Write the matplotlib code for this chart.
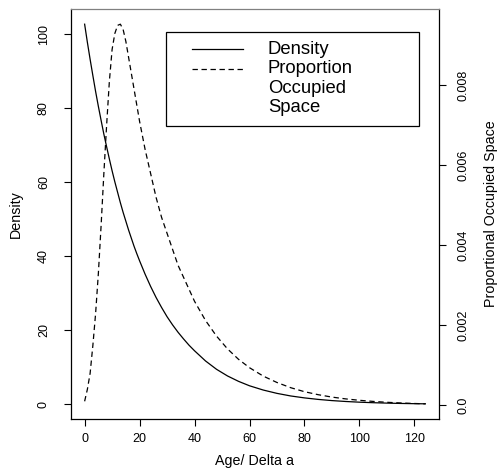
import matplotlib
matplotlib.use("Agg")
import matplotlib.pyplot as plt
from matplotlib.patches import Rectangle
from matplotlib.lines import Line2D

plt.rcParams["font.family"] = ["Liberation Sans", "DejaVu Sans"]

# Age classes (Delta a units)
age = [0, 1, 2, 3, 4, 5, 6, 7, 8, 9, 10, 11, 12, 13, 14, 15, 16, 17, 18, 19, 20,
       22, 24, 26, 28, 30, 32, 34, 36, 38, 40, 44, 48, 52, 56, 60, 65, 70, 75,
       80, 85, 90, 95, 100, 105, 110, 115, 120, 124]

# Density per age class
density = [102.7, 97.8, 93.2, 88.8, 84.5, 80.5, 76.7, 73.0, 69.6, 66.3, 63.1,
           60.1, 57.3, 54.5, 51.9, 49.5, 47.1, 44.9, 42.7, 40.7, 38.8,
           35.2, 31.9, 28.9, 26.2, 23.7, 21.5, 19.5, 17.7, 16.0, 14.5,
           11.75, 9.5, 7.7, 6.25, 5.05, 3.9, 3.0, 2.3,
           1.78, 1.37, 1.05, 0.81, 0.62, 0.48, 0.37, 0.28, 0.22, 0.18]

# Proportion of occupied space per age class
proportion = [0.0001, 0.0004, 0.0008, 0.0015, 0.0023, 0.0033, 0.0045, 0.0058,
              0.0070, 0.0081, 0.0089, 0.0093, 0.00950, 0.00953, 0.0094, 0.0091,
              0.0087, 0.0083, 0.0079, 0.0075, 0.0071,
              0.0064, 0.0058, 0.0052, 0.0047, 0.0043, 0.0039, 0.0035, 0.0032,
              0.0029, 0.0026, 0.00212, 0.00173, 0.00141, 0.00115, 0.00094,
              0.00073, 0.00057, 0.00044, 0.00034, 0.000265, 0.000205,
              0.00016, 0.000125, 0.000097, 0.000075, 0.000058, 0.000045,
              0.000037]

x_ticks = [0, 20, 40, 60, 80, 100, 120]
y_ticks = [0, 20, 40, 60, 80, 100]
y2_ticks = [0.0, 0.002, 0.004, 0.006, 0.008]
y2_labels = ["0.0", "0.002", "0.004", "0.006", "0.008"]


def padded(vals, frac=0.04):
    lo, hi = min(vals), max(vals)
    r = hi - lo
    return lo - frac * r, hi + frac * r


W, H = 502, 468
fig = plt.figure(figsize=(W / 100, H / 100), dpi=100)
L, R, T, B = 71, 439, 9, 419
ax = fig.add_axes([L / W, 1 - B / H, (R - L) / W, (B - T) / H])
ax2 = ax.twinx()

lw = 0.9
dash = (0, (4.3, 2.9))

ax.plot(age, density, color="black", lw=lw)
ax2.plot(age, proportion, color="black", lw=lw, linestyle=dash)

ax.set_xlim(*padded(age))
ax.set_ylim(*padded(density))
ax2.set_ylim(*padded(proportion))

ax.set_xticks(x_ticks)
ax.set_yticks(y_ticks)
ax2.set_yticks(y2_ticks)
ax2.set_yticklabels(y2_labels)

tick_fs = 9
lab_fs = 10.3
ax.tick_params(axis="x", direction="out", length=5.2, width=0.8, pad=4.8,
               labelsize=tick_fs)
ax.tick_params(axis="y", direction="out", length=5.2, width=0.8, pad=10.0,
               labelsize=tick_fs, labelrotation=90)
ax2.tick_params(axis="y", direction="out", length=5.2, width=0.8, pad=8.2,
                labelsize=tick_fs, labelrotation=90)
for lab in ax.get_yticklabels() + ax2.get_yticklabels():
    lab.set_va("center")

ax.set_xlabel("Age/ Delta a", fontsize=lab_fs, labelpad=6.8)
ax.set_ylabel("Density", fontsize=lab_fs, labelpad=11)
ax2.set_ylabel("Proportional Occupied Space", fontsize=lab_fs, labelpad=10,
               rotation=90)

for s in ax.spines.values():
    s.set_linewidth(0.9)
    s.set_color("black")
ax.spines["top"].set_color("#808080")
for s in ax2.spines.values():
    s.set_visible(False)

# Legend box drawn in axes coordinates
tr = ax.transAxes
ax.add_patch(Rectangle((0.258, 0.715), 0.946 - 0.258, 0.945 - 0.715,
                       transform=tr, fill=False, edgecolor="black", lw=0.9,
                       zorder=5))
ax.add_line(Line2D([0.329, 0.467], [0.902, 0.902], transform=tr,
                   color="black", lw=lw, zorder=5))
ax.add_line(Line2D([0.329, 0.467], [0.854, 0.854], transform=tr,
                   color="black", lw=lw, linestyle=dash, zorder=5))
leg_fs = 13.3
for txt, yy in [("Density", 0.902), ("Proportion", 0.854),
                ("Occupied", 0.807), ("Space", 0.760)]:
    ax.text(0.535, yy, txt, transform=tr, fontsize=leg_fs, va="center",
            ha="left", zorder=6)

fig.savefig("out.png", dpi=100)
